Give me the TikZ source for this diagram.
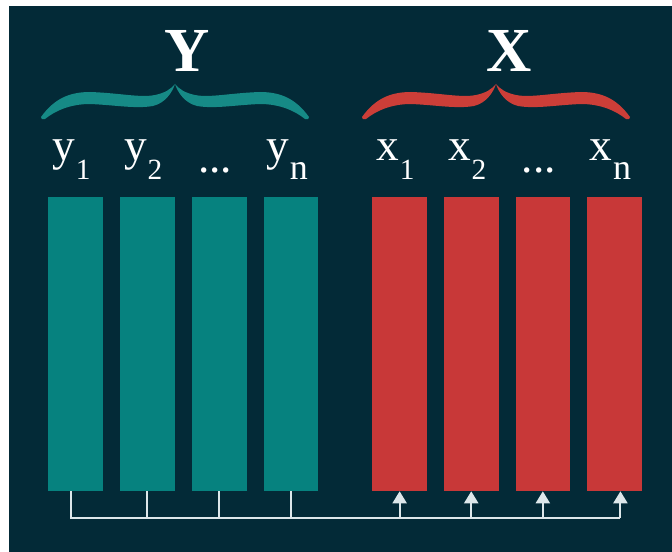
\documentclass[tikz,border=0pt]{standalone}
\usepackage{fontspec}
\setmainfont{Liberation Serif}
\usetikzlibrary{arrows.meta, positioning}
\definecolor{BoardDark}{HTML}{032A37}
\definecolor{YTeal}{HTML}{06827F}
\definecolor{XRed}{HTML}{C83838}
\definecolor{YBrace}{HTML}{168A86}
\definecolor{XBrace}{HTML}{CC3E38}
\definecolor{LinkGrey}{HTML}{DDE7EA}
\newcommand{\lowsub}[2][22]{\kern0.5pt\raisebox{-14.25pt}{\fontsize{#1}{#1}\selectfont #2}}

\tikzset{
  pics/curlybrace/.style={code={
    \foreach \s in {1,-1}{
      \fill[#1, xscale=\s] (-134,33) .. controls (-121,15) and (-106,8) .. (-85,8)
        .. controls (-55,9) and (-35,14) .. (-20,11)
        .. controls (-10,9) and (-4,5) .. (0,0)
        .. controls (-3,9) and (-10,19) .. (-22,22)
        .. controls (-40,25) and (-60,21) .. (-85,20)
        .. controls (-105,20) and (-120,27) .. (-130,35)
        .. controls (-132,36) and (-135,35) .. (-134,33) -- cycle;
    }
  }}
}

\begin{document}
\begin{tikzpicture}[x=0.75pt, y=-0.75pt, node distance=12.5pt, >=Stealth,
        bar/.style={rectangle, inner sep=0pt, minimum width=41pt, minimum height=220.5pt},
        ybar/.style={bar, fill=YTeal},
        xbar/.style={bar, fill=XRed},
        head/.style={text=white, inner sep=0pt, anchor=base, font=\fontsize{47}{47}\selectfont\bfseries},
        lab/.style={text=white, inner sep=0pt, anchor=base, xshift=-3pt, font=\fontsize{34}{34}\selectfont},
        link/.style={draw=LinkGrey, line width=1.5pt},
        tip/.style={-{Triangle[width=10.5pt, length=9pt]}}]

        \fill[white] (0,0) rectangle (672,552);
        \fill[BoardDark] (9,6) rectangle (672,552);

        % columns
        \node[ybar] (y1) at (75.5,344) {};
        \node[ybar, right=of y1] (y2) {};
        \node[ybar, right=of y2] (y3) {};
        \node[ybar, right=of y3] (y4) {};
        \node[xbar, right=40pt of y4] (x1) {};
        \node[xbar, right=12.3pt of x1] (x2) {};
        \node[xbar, right=12.3pt of x2] (x3) {};
        \node[xbar, right=12.3pt of x3] (x4) {};

        % column labels
        \coordinate (labbase) at (0,161);
        \coordinate (dotbase) at (0,173);
        \node[lab] (ly1) at (y1 |- labbase) {y\lowsub{1}};
        \node[lab] (ly2) at (y2 |- labbase) {y\lowsub{2}};
        \node[lab] (ly3) at (y3 |- dotbase) {...};
        \node[lab] (lyn) at (y4 |- labbase) {y\lowsub[27]{n}};
        \node[lab] (lx1) at (x1 |- labbase) {x\lowsub{1}};
        \node[lab] (lx2) at (x2 |- labbase) {x\lowsub{2}};
        \node[lab] (lx3) at (x3 |- dotbase) {...};
        \node[lab] (lxn) at (x4 |- labbase) {x\lowsub[27]{n}};

        % group headings
        \node[head] (Yhead) at (187,72) {Y};
        \node[head] (Xhead) at (509,72) {X};
        \pic at (175,84) {curlybrace=YBrace};
        \pic at (496,84) {curlybrace=XBrace};

        % links
        \coordinate (bus) at (0,518);
        \coordinate (y1out) at ([xshift=-3.75pt]y1.south);
        \coordinate (x4in) at ([xshift=4.5pt]x4.south);
        \draw[link] (y1out) |- (x4in |- bus);
        \foreach \i in {2,3,4}
            \draw[link] (y\i.south) -- (y\i |- bus);
        \foreach \i in {1,2,3}
            \draw[link, tip] (x\i |- bus) -- (x\i.south);
        \draw[link, tip] (x4in |- bus) -- (x4in);
\end{tikzpicture}
\end{document}
